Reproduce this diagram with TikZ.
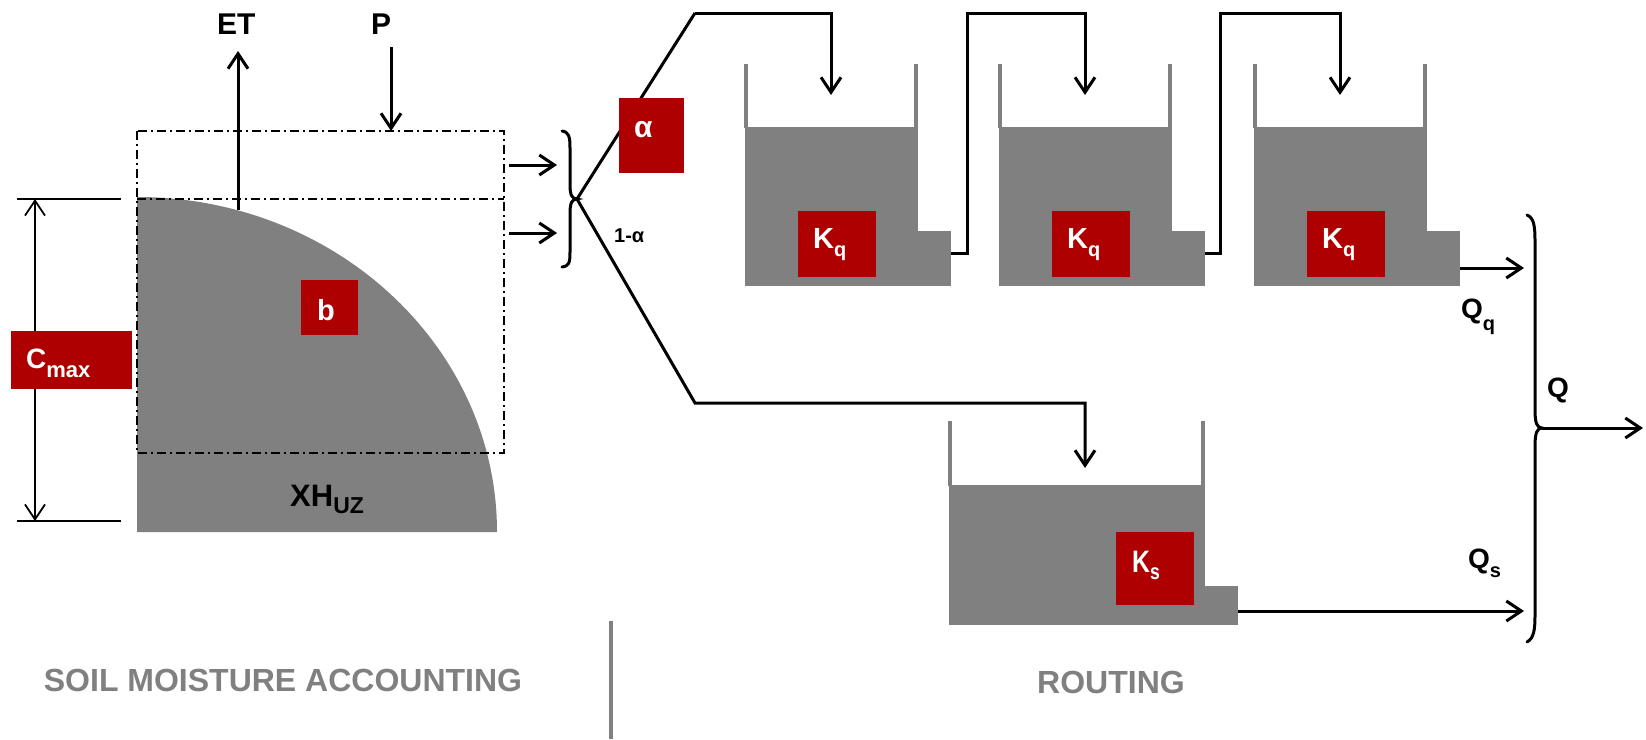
\documentclass[tikz,border=0pt]{standalone}
\usepackage{fontspec}
\setmainfont{Liberation Sans}
\usetikzlibrary{arrows.meta}
\definecolor{boxred}{RGB}{174,0,0}
\definecolor{tankgray}{RGB}{128,128,128}
\newcommand\myfs[1]{\fontsize{#1}{#1}\selectfont}
\newcommand\mysub[3]{\raisebox{-#1pt}{\myfs{#2}#3}}
\begin{document}
\begin{tikzpicture}[x=1pt,y=-1pt,line join=miter,
  arr/.style={line width=3pt,-{Straight Barb[length=15pt,width=20pt]}},
  darr/.style={line width=1.8pt,{Straight Barb[length=15pt,width=20pt]}-{Straight Barb[length=15pt,width=20pt]}},
  tick/.style={line width=2pt},
  dd/.style={line width=1.6pt,dash pattern=on 9pt off 4pt on 2pt off 4pt},
  wall/.style={draw=tankgray,line width=3.5pt},
  water/.style={fill=tankgray},
  brace/.style={line width=3pt,line cap=round},
  redbox/.style={fill=boxred,inner sep=0pt,draw=none},
  wtxt/.style={text=white,font=\bfseries,inner sep=0pt,anchor=base west},
  btxt/.style={text=black,font=\bfseries,inner sep=0pt,anchor=base west},
  gtxt/.style={text=tankgray,font=\bfseries\myfs{32},inner sep=0pt},
]
\useasboundingbox (0,0) rectangle (1646,739);

% ---------- soil moisture store ----------
\fill[tankgray] (137,532) -- (137,197) arc[start angle=-90,end angle=0,x radius=360,y radius=335] -- cycle;
\draw[dd] (137,131) rectangle (504,453);
\draw[dd] (137,199) -- (504,199);

% Cmax dimension
\draw[tick] (17,199) -- (121,199);
\draw[tick] (17,521) -- (121,521);
\coordinate (cmtop) at (35,199);
\coordinate (cmbot) at (35,521);
\draw[darr] (cmtop) -- (cmbot);
\node[redbox,minimum width=121pt,minimum height=58pt] (cmaxbox) at (71.5,360) {};
\node[wtxt] (cmaxtxt) at (26,368) {\myfs{28}C\mysub{9}{22}{max}};

% b
\node[redbox,minimum width=57pt,minimum height=55pt] (bbox) at (329.5,307.5) {};
\node[wtxt] (btxt) at (317,320) {\myfs{29}b};

% XH_UZ
\node[btxt] (xhuz) at (290,506) {\myfs{31}XH\mysub{7}{23}{UZ}};

% ET and P
\node[btxt] (et) at (217,34) {\myfs{30}ET};
\node[btxt] (p) at (371,34) {\myfs{30}P};
\coordinate (etb) at (238,210);
\coordinate (ett) at (238,51);
\draw[arr] (etb) -- (ett);
\coordinate (pt) at (391,47);
\coordinate (pb) at (391,131);
\draw[arr] (pt) -- (pb);

% outflows of the store
\coordinate (o1a) at (509,165); \coordinate (o1b) at (557,165);
\coordinate (o2a) at (509,233); \coordinate (o2b) at (557,233);
\draw[arr] (o1a) -- (o1b);
\draw[arr] (o2a) -- (o2b);

% split brace
\coordinate (split) at (577,199);
\draw[brace] (562,131) .. controls (569,132) and (570,137) .. (570,148) -- (570,185)
  .. controls (570,195) and (572,199) .. (split)
  .. controls (572,199) and (570,203) .. (570,213) -- (570,252)
  .. controls (570,263) and (569,266) .. (562,267);

% ---------- tanks ----------
% tank 1
\fill[tankgray] (744.5,127) rectangle (917.5,286);
\fill[tankgray] (916,231) rectangle (951,286);
\draw[wall] (746,64) -- (746,128); \draw[wall] (916,64) -- (916,128);
% tank 2
\fill[tankgray] (998.5,127) rectangle (1171.5,286);
\fill[tankgray] (1170,231) rectangle (1205,286);
\draw[wall] (1000,64) -- (1000,128); \draw[wall] (1170,64) -- (1170,128);
% tank 3
\fill[tankgray] (1253.5,127) rectangle (1426.5,286);
\fill[tankgray] (1425,231) rectangle (1460,286);
\draw[wall] (1255,64) -- (1255,128); \draw[wall] (1425,64) -- (1425,128);
% slow tank
\fill[tankgray] (948.5,485) rectangle (1204.5,625);
\fill[tankgray] (1203,586) rectangle (1238,625);
\draw[wall] (950,421) -- (950,486); \draw[wall] (1203,421) -- (1203,486);

% K boxes
\node[redbox,minimum width=78pt,minimum height=66pt] (kq1) at (837,244) {};
\node[wtxt] (kq1t) at (813,248) {\myfs{29}K\mysub{8}{20}{q}};
\node[redbox,minimum width=78pt,minimum height=66pt] (kq2) at (1091,244) {};
\node[wtxt] (kq2t) at (1067,248) {\myfs{29}K\mysub{8}{20}{q}};
\node[redbox,minimum width=78pt,minimum height=66pt] (kq3) at (1346,244) {};
\node[wtxt] (kq3t) at (1322,248) {\myfs{29}K\mysub{8}{20}{q}};
\node[redbox,minimum width=78pt,minimum height=73pt] (ks) at (1155,568.5) {};
\node[wtxt] (kst) at (1132,572) {\scalebox{0.8}[1]{\myfs{31}K\mysub{7}{22}{s}}};

% alpha
\coordinate (up1) at (695,13);
\coordinate (in1) at (831,95);
\draw[line width=3pt] (split) -- (up1);
\node[redbox,minimum width=65pt,minimum height=75pt] (abox) at (651.5,135.5) {};
\node[wtxt] (atxt) at (634,137) {\myfs{30}α};
\draw[arr] (up1) -- (831,13) -- (in1);
\node[btxt] (oma) at (614,242) {\myfs{20}1-α};

% slow branch
\coordinate (lo1) at (695,403);
\coordinate (ins) at (1085,468);
\draw[arr] (split) -- (lo1) -- (1085,403) -- (ins);

% tank to tank
\coordinate (out1) at (951,253);
\coordinate (in2) at (1085,95);
\draw[arr] (out1) -- (967,253) -- (967,13) -- (1085,13) -- (in2);
\coordinate (out2) at (1205,253);
\coordinate (in3) at (1340,95);
\draw[arr] (out2) -- (1220,253) -- (1220,13) -- (1340,13) -- (in3);

% outflows
\coordinate (out3) at (1460,268);
\coordinate (qqend) at (1524,268);
\draw[arr] (out3) -- (qqend);
\coordinate (outs) at (1238,611);
\coordinate (qsend) at (1524,611);
\draw[arr] (outs) -- (qsend);

% Q brace
\coordinate (qtip) at (1542,428);
\coordinate (qend) at (1643,428);
\draw[brace] (1527,215) .. controls (1534,218) and (1535,226) .. (1535,242) -- (1535,410)
  .. controls (1535,423) and (1537,428) .. (qtip)
  .. controls (1537,428) and (1535,433) .. (1535,446) -- (1535,614)
  .. controls (1535,630) and (1534,638) .. (1527,642);
\draw[arr] (qtip) -- (qend);

\node[btxt] (qq) at (1461,318) {\myfs{28}Q\mysub{12}{20}{q}};
\node[btxt] (q) at (1547,397) {\myfs{28}Q};
\node[btxt] (qs) at (1468,568) {\myfs{28}Q\mysub{9}{20}{s}};

% bottom captions
\draw[draw=tankgray,line width=4.5pt] (611,621) -- (611,739);
\node[gtxt] (sma) at (283,680) {SOIL MOISTURE ACCOUNTING};
\node[gtxt] (rout) at (1111,682) {ROUTING};
\end{tikzpicture}
\end{document}
